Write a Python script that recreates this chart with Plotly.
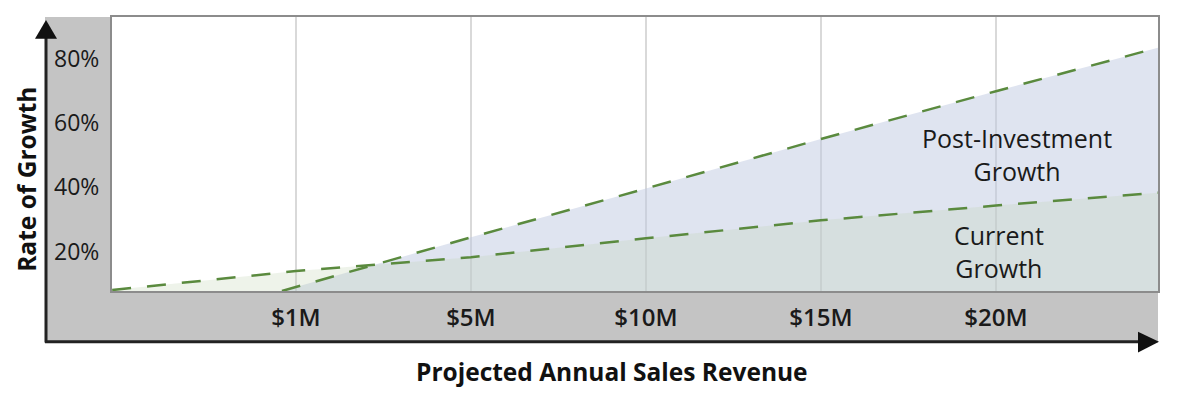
import plotly.graph_objects as go

# ---- data ----
tick_labels = ["$1M", "$5M", "$10M", "$15M", "$20M"]
tick_pos = [1, 2, 3, 4, 5]
y_ticks = [20, 40, 60, 80]
y_tick_labels = ["20%", "40%", "60%", "80%"]

current_x = [-0.05, 1, 2, 3, 4, 5, 5.93]
current_y = [8.0, 13.9, 18.2, 24.1, 29.7, 34.3, 38.3]

post_x = [0.92, 2, 3, 4, 5, 5.93]
post_y = [7.7, 24.4, 39.6, 55.0, 69.9, 83.5]

X_RANGE = [-0.051, 5.926]
Y_RANGE = [7.7, 93.0]

# ---- geometry (pixels, in page coordinates) ----
W, H = 1181, 395
OFF = 8  # default body margin of the html page
L, R, T, B = 112, 1158, 15, 291


def px(x):
    return (x - L) / (R - L)


def py(y):
    return (B - y) / (B - T)


FONT = "Open Sans"
LINE = "#5a8a3e"
DASH = "19px,16px"

fig = go.Figure()

# post-investment fill (blue, translucent)
fig.add_trace(go.Scatter(
    x=post_x, y=post_y, mode="lines",
    line=dict(color="rgba(0,0,0,0)", width=0),
    fill="tozeroy", fillcolor="rgba(191,201,225,0.5)",
    hoverinfo="skip", showlegend=False))
# current growth fill (green, translucent) on top
fig.add_trace(go.Scatter(
    x=current_x, y=current_y, mode="lines",
    line=dict(color="rgba(0,0,0,0)", width=0),
    fill="tozeroy", fillcolor="rgba(192,210,177,0.27)",
    hoverinfo="skip", showlegend=False))
# dashed lines
fig.add_trace(go.Scatter(
    x=current_x, y=current_y, mode="lines",
    line=dict(color=LINE, width=2.5, dash=DASH),
    showlegend=False, hoverinfo="skip"))
fig.add_trace(go.Scatter(
    x=post_x, y=post_y, mode="lines",
    line=dict(color=LINE, width=2.5, dash=DASH),
    showlegend=False, hoverinfo="skip"))

GRAY = "#c4c4c4"
shapes = [
    dict(type="rect", xref="paper", yref="paper",
         x0=px(45), x1=px(L), y0=py(343), y1=py(T),
         fillcolor=GRAY, line=dict(width=0), layer="below"),
    dict(type="rect", xref="paper", yref="paper",
         x0=px(L - 1), x1=px(R), y0=py(343), y1=py(B),
         fillcolor=GRAY, line=dict(width=0), layer="below"),
    dict(type="line", xref="paper", yref="paper",
         x0=px(46), x1=px(46), y0=py(343), y1=py(30),
         line=dict(color="#222222", width=3)),
    dict(type="line", xref="paper", yref="paper",
         x0=px(45), x1=px(1145), y0=py(342), y1=py(342),
         line=dict(color="#222222", width=3)),
    dict(type="path", xref="paper", yref="paper",
         path=f"M {px(35)} {py(37)} L {px(57)} {py(37)} L {px(46)} {py(18)} Z",
         fillcolor="#111111", line=dict(width=0)),
    dict(type="path", xref="paper", yref="paper",
         path=f"M {px(1138)} {py(332)} L {px(1138)} {py(353)} L {px(1159)} {py(342)} Z",
         fillcolor="#111111", line=dict(width=0)),
]

annotations = [
    dict(text="<b>Rate of Growth</b>", xref="paper", yref="paper",
         x=px(27), y=py(179), textangle=-90, showarrow=False,
         font=dict(family=FONT, size=24.5, color="#111111"),
         xanchor="center", yanchor="middle"),
    dict(text="<b>Projected Annual Sales Revenue</b>", xref="paper", yref="paper",
         x=px(612), y=py(372), showarrow=False,
         font=dict(family=FONT, size=24.5, color="#111111"),
         xanchor="center", yanchor="middle"),
    dict(text="Post-Investment<br>Growth", xref="paper", yref="paper",
         x=px(1017), y=py(153), showarrow=False,
         font=dict(family=FONT, size=25, color="#1a1a1a"),
         xanchor="center", yanchor="middle", align="center"),
    dict(text="Current<br>Growth", xref="paper", yref="paper",
         x=px(999), y=py(251), showarrow=False,
         font=dict(family=FONT, size=25, color="#1a1a1a"),
         xanchor="center", yanchor="middle", align="center"),
]

fig.update_layout(
    width=W - OFF, height=H - OFF,
    margin=dict(l=L - OFF, r=W - R, t=T - OFF, b=H - B, pad=0),
    paper_bgcolor="white", plot_bgcolor="white",
    shapes=shapes, annotations=annotations,
    showlegend=False,
    xaxis=dict(
        range=X_RANGE, tickmode="array", tickvals=tick_pos,
        ticktext=tick_labels,
        showgrid=True, gridcolor="#d9d9d9", gridwidth=2,
        zeroline=False, showline=True, mirror=True,
        linecolor="#8c8c8c", linewidth=2, ticks="",
        ticklabelstandoff=4,
        tickfont=dict(family=FONT, size=24, color="#1a1a1a", weight=600),
        fixedrange=True),
    yaxis=dict(
        range=Y_RANGE, tickmode="array", tickvals=y_ticks,
        ticktext=y_tick_labels,
        showgrid=False, zeroline=False, showline=True, mirror=True,
        linecolor="#8c8c8c", linewidth=2, ticks="",
        ticklabelstandoff=6,
        tickfont=dict(family=FONT, size=23, color="#1a1a1a"),
        fixedrange=True),
)

fig.write_html("out.html", config={"displayModeBar": False})
